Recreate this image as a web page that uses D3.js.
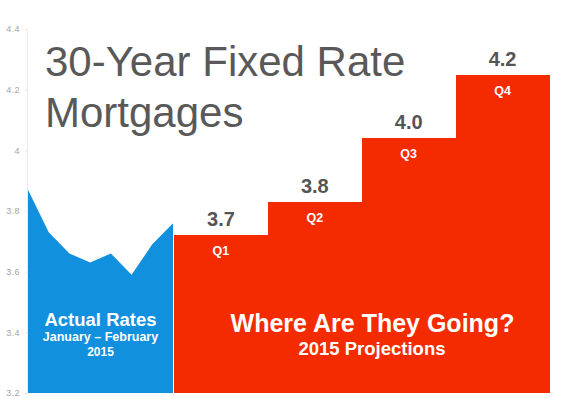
<!DOCTYPE html>
<html>
<head>
<meta charset="utf-8">
<script src="https://cdn.jsdelivr.net/npm/d3@7"></script>
<style>
  body { margin: 0; background: #fff; }
  svg { display: block; font-family: "Liberation Sans", Arial, sans-serif; }
</style>
</head>
<body>
<svg id="chart" width="568" height="399"></svg>
<script>
// Weekly 30-year fixed rates, Jan - Feb 2015
const weeks = ["Jan 2", "Jan 8", "Jan 15", "Jan 22", "Jan 29", "Feb 5", "Feb 12", "Feb 19"];
const actualRates = [3.87, 3.73, 3.66, 3.63, 3.66, 3.59, 3.69, 3.76];

// Projections by quarter (drawn step heights, plus the printed labels)
const quarters = ["Q1", "Q2", "Q3", "Q4"];
const stepTops = [3.72, 3.83, 4.04, 4.25];
const stepLabels = ["3.7", "3.8", "4.0", "4.2"];

const yTicks = [3.2, 3.4, 3.6, 3.8, 4.0, 4.2, 4.4];

const svg = d3.select("#chart");

const y = d3.scaleLinear().domain([3.2, 4.4]).range([393, 29]);
const xWeek = d3.scalePoint().domain(weeks).range([28, 173]);
const xQ = d3.scaleBand().domain(quarters).range([174, 549.5]);

// y axis, very faint
const axis = svg.append("g")
    .attr("transform", "translate(27,0)")
    .call(d3.axisLeft(y).tickValues(yTicks).tickSize(2).tickPadding(5).tickFormat(d3.format("~g")));
axis.select(".domain").attr("stroke", "#ececec");
axis.selectAll(".tick line").attr("stroke", "#e4e4e4");
axis.selectAll(".tick text")
    .attr("fill", "#a3a3a3")
    .style("font-size", "9px")
    .style("letter-spacing", "0.4px");

// actual rates area
const area = d3.area()
    .x((d, i) => xWeek(weeks[i]))
    .y0(y(3.2))
    .y1(d => y(d));

svg.append("path")
    .datum(actualRates)
    .attr("fill", "#1190dd")
    .attr("d", area);

// projection steps
svg.selectAll(".step")
    .data(stepTops)
    .join("rect")
    .attr("class", "step")
    .attr("x", (d, i) => xQ(quarters[i]))
    .attr("width", xQ.bandwidth() + 0.5)
    .attr("y", d => y(d))
    .attr("height", d => y(3.2) - y(d))
    .attr("fill", "#f52b00")
    .attr("shape-rendering", "crispEdges");

// value labels above each step
svg.selectAll(".val")
    .data(stepTops)
    .join("text")
    .attr("class", "val")
    .attr("x", (d, i) => xQ(quarters[i]) + xQ.bandwidth() / 2)
    .attr("y", d => y(d) - 9)
    .attr("text-anchor", "middle")
    .attr("fill", "#555")
    .style("font-size", "20px")
    .style("font-weight", "bold")
    .text((d, i) => stepLabels[i]);

// quarter labels inside steps
svg.selectAll(".qlab")
    .data(stepTops)
    .join("text")
    .attr("class", "qlab")
    .attr("x", (d, i) => xQ(quarters[i]) + xQ.bandwidth() / 2)
    .attr("y", d => y(d) + 20)
    .attr("text-anchor", "middle")
    .attr("fill", "#fff")
    .style("font-size", "12.5px")
    .style("font-weight", "bold")
    .text((d, i) => quarters[i]);

// title
const title = svg.append("text")
    .attr("x", 45)
    .attr("fill", "#595959")
    .style("font-size", "42px");
title.append("tspan").attr("x", 45).attr("y", 76).text("30-Year Fixed Rate");
title.append("tspan").attr("x", 45).attr("y", 126.5).text("Mortgages");

// blue block text
const blueX = (xWeek(weeks[0]) + xWeek(weeks[weeks.length - 1])) / 2;
svg.append("text")
    .attr("x", blueX).attr("y", 326)
    .attr("text-anchor", "middle").attr("fill", "#fff")
    .style("font-size", "18.5px").style("font-weight", "bold")
    .text("Actual Rates");
svg.append("text")
    .attr("x", blueX).attr("y", 341)
    .attr("text-anchor", "middle").attr("fill", "#fff")
    .style("font-size", "12.5px").style("font-weight", "bold")
    .text("January – February");
svg.append("text")
    .attr("x", blueX).attr("y", 356)
    .attr("text-anchor", "middle").attr("fill", "#fff")
    .style("font-size", "12px").style("font-weight", "bold")
    .text("2015");

// red block text
svg.append("text")
    .attr("x", 372.5).attr("y", 332)
    .attr("text-anchor", "middle").attr("fill", "#fff")
    .style("font-size", "25px").style("font-weight", "bold")
    .text("Where Are They Going?");
svg.append("text")
    .attr("x", 372).attr("y", 355)
    .attr("text-anchor", "middle").attr("fill", "#fff")
    .style("font-size", "18.5px").style("font-weight", "bold")
    .text("2015 Projections");
</script>
</body>
</html>
